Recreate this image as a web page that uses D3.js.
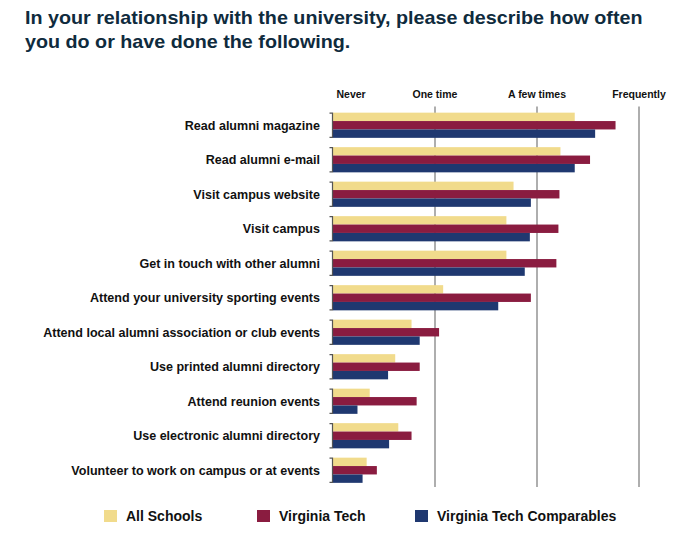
<!DOCTYPE html>
<html>
<head>
<meta charset="utf-8">
<script src="https://cdn.jsdelivr.net/npm/d3@7"></script>
<style>
  html, body { margin: 0; padding: 0; background: #fff; }
  svg { display: block; }
  text { font-family: "Liberation Sans", Arial, sans-serif; font-weight: bold; }
</style>
</head>
<body>
<svg id="chart" width="698" height="541"></svg>
<script>
const titleLines = [
  "In your relationship with the university, please describe how often",
  "you do or have done the following."
];
const categories = [
  "Read alumni magazine",
  "Read alumni e-mail",
  "Visit campus website",
  "Visit campus",
  "Get in touch with other alumni",
  "Attend your university sporting events",
  "Attend local alumni association or club events",
  "Use printed alumni directory",
  "Attend reunion events",
  "Use electronic alumni directory",
  "Volunteer to work on campus or at events"
];
const seriesNames = ["All Schools", "Virginia Tech", "Virginia Tech Comparables"];
const allSchools   = [2.37, 2.23, 1.77, 1.70, 1.70, 1.08, 0.77, 0.61, 0.36, 0.64, 0.33];
const virginiaTech = [2.77, 2.52, 2.22, 2.21, 2.19, 1.94, 1.04, 0.85, 0.82, 0.77, 0.43];
const vtComparables= [2.57, 2.37, 1.94, 1.93, 1.88, 1.62, 0.85, 0.54, 0.24, 0.55, 0.29];
const tickValues = [0, 1, 2, 3];
const tickLabels = ["Never", "One time", "A few times", "Frequently"];
const colors = ["#F1DB8C", "#8A1C40", "#1F3870"];

const seriesValues = [allSchools, virginiaTech, vtComparables];
const svg = d3.select("#chart");

// Title
const titleG = svg.append("g").attr("transform", "translate(25,0)");
const tg = titleG.append("g");
const tLines = tg.selectAll("text").data(titleLines).join("text")
  .attr("x", 0)
  .attr("y", (d, i) => 24.5 + i * 23.5)
  .attr("font-size", 18.5)
  .attr("fill", "#0f2b3d")
  .text(d => d);
const w0 = tLines.node().getComputedTextLength();
tg.attr("transform", `scale(${618 / w0},1)`);

// Scales
const x = d3.scaleLinear().domain([0, 3]).range([333, 639]);
const y = d3.scaleBand().domain(categories).range([108, 487.5]).paddingInner(0.27).paddingOuter(0.135);
const ys = d3.scaleBand().domain(seriesNames).range([0, y.bandwidth()]);

// Gridlines
svg.append("g").selectAll("line").data(tickValues.slice(1)).join("line")
  .attr("x1", d => x(d)).attr("x2", d => x(d))
  .attr("y1", 106.5).attr("y2", 487)
  .attr("stroke", "#9a9a9a").attr("stroke-width", 1.6);

// Header tick labels
svg.append("g").selectAll("text").data(tickValues).join("text")
  .attr("x", d => d === 0 ? x(d) + 3.5 : x(d))
  .attr("y", 97.5)
  .attr("text-anchor", d => d === 0 ? "start" : "middle")
  .attr("font-size", 10.5)
  .attr("fill", "#111")
  .text((d, i) => tickLabels[i]);

// Bars
const groups = svg.append("g").selectAll("g").data(categories).join("g")
  .attr("transform", d => `translate(0,${y(d)})`);
groups.selectAll("rect")
  .data((c, ci) => seriesNames.map((s, si) => ({ s, si, v: seriesValues[si][ci] })))
  .join("rect")
  .attr("x", x(0))
  .attr("y", d => ys(d.s))
  .attr("width", d => x(d.v) - x(0))
  .attr("height", ys.bandwidth())
  .attr("fill", d => colors[d.si]);

// Brackets
groups.append("path")
  .attr("d", d => `M${x(0) - 3.5},0.5 H${x(0) - 0.5} V${y.bandwidth() - 0.5} H${x(0) - 3.5}`)
  .attr("fill", "none").attr("stroke", "#555").attr("stroke-width", 1.2);

// Category labels
const labels = groups.append("text")
  .attr("x", 320)
  .attr("y", y.bandwidth() / 2)
  .attr("dy", "0.35em")
  .attr("text-anchor", "end")
  .attr("font-size", 12)
  .attr("fill", "#111")
  .text(d => d);
let maxW = 0;
labels.each(function() { maxW = Math.max(maxW, this.getComputedTextLength()); });
labels.attr("font-size", 12 * 277 / maxW);

// Legend
const legendX = [104, 257, 415];
const leg = svg.append("g").selectAll("g").data(seriesNames).join("g")
  .attr("transform", (d, i) => `translate(${legendX[i]},510)`);
leg.append("rect").attr("width", 13).attr("height", 12).attr("fill", (d, i) => colors[i]);
const legText = leg.append("text").attr("x", 22).attr("y", 6).attr("dy", "0.36em")
  .attr("font-size", 14).attr("fill", "#111").text(d => d);
</script>
</body>
</html>
